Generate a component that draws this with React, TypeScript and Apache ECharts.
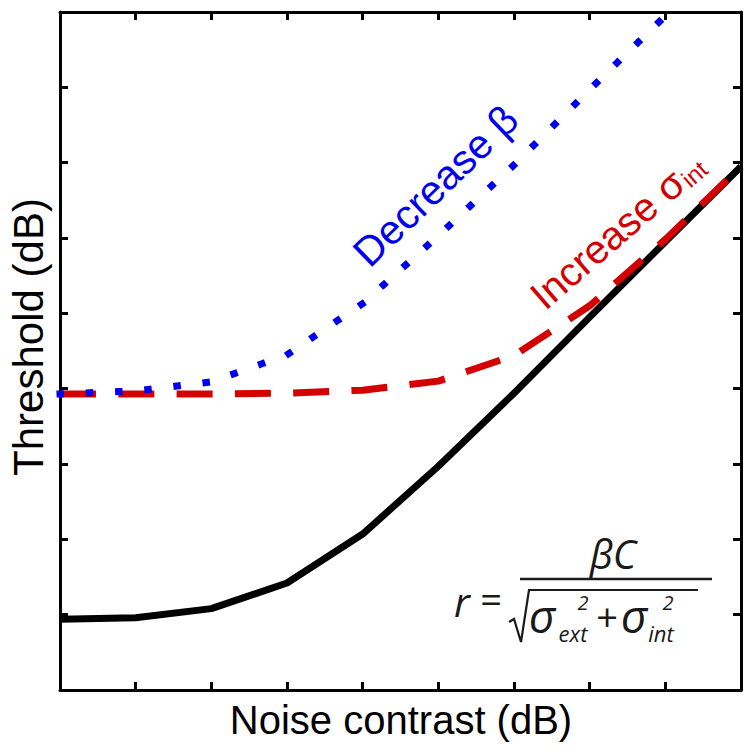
import React, { useEffect, useRef } from 'react';
import * as echarts from 'echarts';

// Noise contrast positions (unlabelled ticks, axis units)
const noiseContrast = [0, 1, 2, 3, 4, 5, 6, 7, 8, 9];
// Threshold values (axis units, unlabelled)
const baselineThreshold = [0.94, 0.96, 1.08, 1.42, 2.07, 2.97, 3.94, 4.95, 5.95, 6.95];
const increaseSigmaIntThreshold = [3.93, 3.93, 3.93, 3.94, 3.98, 4.1, 4.44, 5.1, 5.98, 6.95];
const decreaseBetaThreshold = [3.93, 3.97, 4.09, 4.45, 5.13, 6.03, 6.97, 7.97, 8.95, 9.95];

const xTitle = 'Noise contrast (dB)';
const yTitle = 'Threshold (dB)';
const labelBeta = 'Decrease β';
const labelSigma = 'Increase σ';
const labelSigmaSub = 'int';

function pairs(ys: number[]) {
  return noiseContrast.map((x, i) => [x, ys[i]]);
}

function measure(text: string, font: string) {
  const ctx = document.createElement('canvas').getContext('2d');
  if (!ctx) return text.length * 20;
  ctx.font = font;
  return ctx.measureText(text).width;
}

export default function App() {
  const ref = useRef<HTMLDivElement>(null);
  useEffect(() => {
    if (!ref.current) return;
    const chart = echarts.init(ref.current, null, { renderer: 'svg' });

    const axisCommon = {
      type: 'value',
      min: 0,
      max: 9,
      interval: 1,
      axisLine: { show: true, onZero: false, lineStyle: { color: '#000', width: 3 } },
      axisTick: { show: true, inside: true, length: 8, lineStyle: { color: '#000', width: 3 } },
      axisLabel: { show: false },
      splitLine: { show: false },
    };

    const sans = '"Liberation Sans", Arial, sans-serif';
    const mathFont = '"Open Sans", "Noto Sans", sans-serif';
    const ink = '#1a1a1a';
    const red = '#d40000';
    const blue = '#0000f0';

    const incFont = `40px ${sans}`;
    const incW = measure(labelSigma, incFont);

    const deg = Math.PI / 180;

    const mText = (text: string, x: number, y: number, size: number, italic = true) => ({
      type: 'text',
      x,
      y,
      silent: true,
      style: {
        text,
        fill: ink,
        fontSize: size,
        fontFamily: mathFont,
        fontStyle: italic ? 'italic' : 'normal',
        align: 'center',
        verticalAlign: 'middle',
      },
    });

    chart.setOption({
      animation: false,
      backgroundColor: '#fff',
      grid: { left: 60, right: 12, top: 12, bottom: 62, containLabel: false },
      xAxis: [
        { ...axisCommon, position: 'bottom' },
        { ...axisCommon, position: 'top' },
      ],
      yAxis: [
        { ...axisCommon, position: 'left' },
        { ...axisCommon, position: 'right' },
      ],
      series: [
        {
          name: 'baseline',
          type: 'line',
          data: pairs(baselineThreshold),
          showSymbol: false,
          symbol: 'none',
          lineStyle: { color: '#000', width: 7, join: 'round' },
          z: 3,
        },
        {
          name: 'Increase σint',
          type: 'line',
          data: pairs(increaseSigmaIntThreshold),
          showSymbol: false,
          symbol: 'none',
          lineStyle: { color: red, width: 7, type: [36, 22.3], cap: 'butt' },
          z: 4,
        },
        {
          name: 'Decrease β',
          type: 'line',
          data: pairs(decreaseBetaThreshold),
          showSymbol: false,
          symbol: 'none',
          clip: true,
          lineStyle: { color: blue, width: 7, type: [0.5, 28.8], cap: 'square' },
          z: 5,
        },
      ],
      graphic: [
        {
          type: 'text',
          x: 401,
          y: 720,
          silent: true,
          style: { text: xTitle, fill: '#000', fontSize: 40, fontFamily: sans, align: 'center', verticalAlign: 'middle' },
        },
        {
          type: 'text',
          x: 28,
          y: 337,
          rotation: Math.PI / 2,
          silent: true,
          style: { text: yTitle, fill: '#000', fontSize: 42, fontFamily: sans, align: 'center', verticalAlign: 'middle' },
        },
        {
          type: 'text',
          x: 360,
          y: 259,
          rotation: 44 * deg,
          silent: true,
          style: { text: labelBeta, fill: blue, fontSize: 41, fontFamily: sans, align: 'left', verticalAlign: 'middle' },
        },
        {
          type: 'group',
          x: 536,
          y: 301,
          rotation: 41 * deg,
          silent: true,
          children: [
            {
              type: 'text',
              x: 0,
              y: 0,
              style: { text: labelSigma, fill: red, fontSize: 40, fontFamily: sans, align: 'left', verticalAlign: 'middle' },
            },
            {
              type: 'text',
              x: incW + 1,
              y: 8,
              style: { text: labelSigmaSub, fill: red, fontSize: 24, fontFamily: sans, align: 'left', verticalAlign: 'middle' },
            },
          ],
        },
        // formula r = βC / sqrt(σ²ext + σ²int)
        mText('βC', 613, 553, 40),
        mText('r', 462, 601, 40),
        mText('=', 491, 598, 38, false),
        {
          type: 'line',
          silent: true,
          shape: { x1: 520, y1: 579, x2: 712, y2: 579 },
          style: { stroke: ink, lineWidth: 2.5 },
        },
        {
          type: 'polyline',
          silent: true,
          shape: { points: [[509, 622], [514, 619], [521, 642], [529, 590], [698, 590]] },
          style: { stroke: ink, lineWidth: 2.2, fill: 'none' },
        },
        mText('σ', 542, 615, 46),
        mText('ext', 573, 633, 22),
        mText('2', 583, 602, 20),
        mText('+', 607, 616, 38, false),
        mText('σ', 634, 615, 46),
        mText('int', 661, 633, 22),
        mText('2', 668, 602, 20),
      ],
    });

    return () => chart.dispose();
  }, []);

  return (
    <div
      ref={ref}
      style={{ position: 'fixed', left: 0, top: 0, width: 753, height: 752, background: '#fff' }}
    />
  );
}
